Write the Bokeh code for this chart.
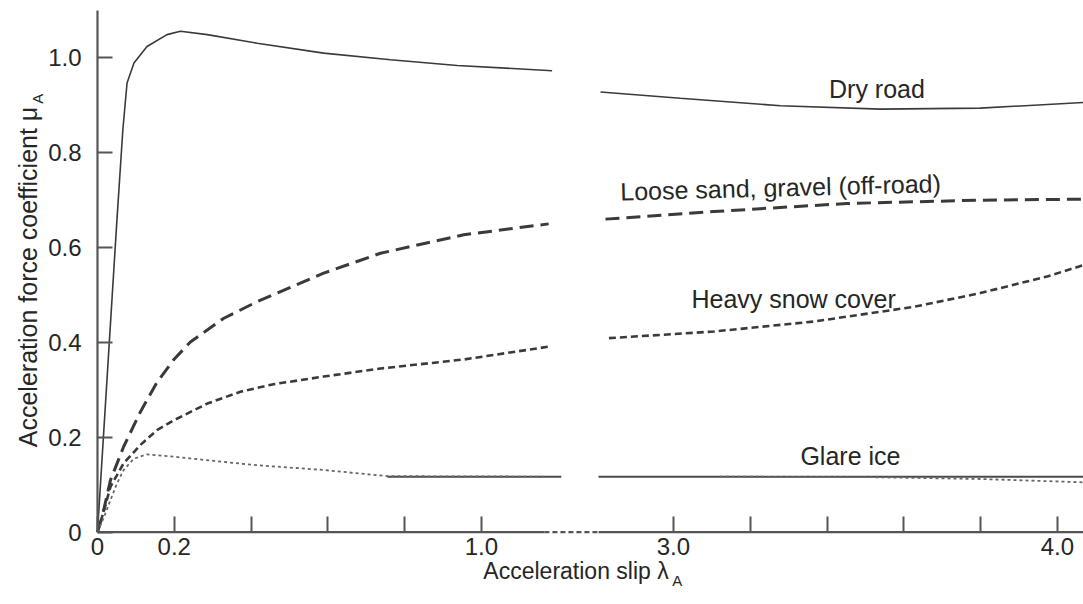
import math
from bokeh.plotting import figure
from bokeh.models import FixedTicker, Label, Range1d
from bokeh.embed import file_html
from bokeh.resources import INLINE

# ---------------- data (acceleration slip, force coefficient) ----------------
DRY_SLIP_L = [0, 0.03, 0.05, 0.066, 0.077, 0.095, 0.129, 0.181, 0.216, 0.286, 0.416, 0.589, 0.763, 0.937, 1.184]
DRY_MU_L   = [0, 0.39, 0.65, 0.848, 0.947, 0.989, 1.024, 1.049, 1.056, 1.049, 1.031, 1.01, 0.996, 0.984, 0.973]
DRY_SLIP_R = [2.81, 3.018, 3.279, 3.539, 3.799, 4.068]
DRY_MU_R   = [0.928, 0.915, 0.899, 0.892, 0.894, 0.906]

SAND_SLIP_L = [0, 0.012, 0.034, 0.068, 0.112, 0.155, 0.199, 0.242, 0.329, 0.416, 0.589, 0.737, 0.954, 1.175]
SAND_MU_L   = [0, 0.032, 0.11, 0.18, 0.254, 0.316, 0.364, 0.401, 0.451, 0.486, 0.546, 0.588, 0.627, 0.65]
SAND_SLIP_R = [2.823, 3.105, 3.452, 3.799, 4.068]
SAND_MU_R   = [0.66, 0.676, 0.693, 0.70, 0.702]

SNOW_SLIP_L = [0, 0.017, 0.034, 0.068, 0.112, 0.155, 0.199, 0.286, 0.372, 0.459, 0.589, 0.737, 0.954, 1.175]
SNOW_MU_L   = [0, 0.046, 0.096, 0.145, 0.184, 0.215, 0.236, 0.271, 0.296, 0.312, 0.328, 0.345, 0.364, 0.391]
SNOW_SLIP_R = [2.832, 3.105, 3.365, 3.626, 3.799, 3.973, 4.068]
SNOW_MU_R   = [0.409, 0.423, 0.444, 0.475, 0.504, 0.539, 0.563]

ICE_DOT_SLIP_L = [0, 0.017, 0.034, 0.051, 0.068, 0.095, 0.129, 0.199, 0.329, 0.416, 0.589, 0.755, 1.161]
ICE_DOT_MU_L   = [0, 0.032, 0.068, 0.103, 0.131, 0.155, 0.164, 0.159, 0.148, 0.141, 0.131, 0.118, 0.117]
ICE_DOT_SLIP_R = [3.12, 3.5, 3.8, 4.068]
ICE_DOT_MU_R   = [0.117, 0.116, 0.112, 0.105]
ICE_SOLID_SLIP_L = [0.755, 1.208]
ICE_SOLID_MU_L   = [0.117, 0.117]
ICE_SOLID_SLIP_R = [2.805, 4.068]
ICE_SOLID_MU_R   = [0.117, 0.117]

X_TICKS = [0, 0.2, 0.4, 0.6, 0.8, 1.0, 3.0, 3.2, 3.4, 3.6, 3.8, 4.0]
X_TICK_LABELS = ["0", "0.2", "", "", "", "1.0", "3.0", "", "", "", "", "4.0"]
Y_TICKS = [0, 0.2, 0.4, 0.6, 0.8, 1.0]
Y_TICK_LABELS = ["0", "0.2", "0.4", "0.6", "0.8", "1.0"]

CURVE_NAMES = ["Dry road", "Loose sand, gravel (off-road)", "Heavy snow cover", "Glare ice"]
NAME_SLIP = [3.53, 3.279, 3.313, 3.461]
NAME_MU = [0.935, 0.727, 0.492, 0.1615]
NAME_ANGLE = [0, 0.026, 0, 0]

# broken slip axis: the section between BREAK_LO and BREAK_HI is compressed
BREAK_LO = 1.164
BREAK_HI = 2.805
SHIFT = 1.5
X_MIN_VIEW = -0.2526
X_MAX = 4.068
Y_MIN_VIEW = -0.1442
Y_MAX_VIEW = 1.121
Y_AXIS_TOP = 1.1


def sx(vals):
    return [round(v if v < 2.0 else v - SHIFT, 6) for v in vals]


FONT = "Liberation Sans"
INK = "#3a3a3a"
AXIS = "#555555"
TXT = "#262626"

p = figure(width=1083, height=600,
           x_range=Range1d(X_MIN_VIEW, sx([X_MAX])[0]), y_range=Range1d(Y_MIN_VIEW, Y_MAX_VIEW),
           output_backend="svg", toolbar_location=None, min_border=0)
p.outline_line_color = None
p.grid.visible = False
p.background_fill_color = "white"
p.border_fill_color = "white"

# curves
p.line(sx(DRY_SLIP_L), DRY_MU_L, line_color=INK, line_width=1.6)
p.line(sx(DRY_SLIP_R), DRY_MU_R, line_color=INK, line_width=1.6)
p.line(sx(SAND_SLIP_L), SAND_MU_L, line_color=INK, line_width=3, line_dash="14 7")
p.line(sx(SAND_SLIP_R), SAND_MU_R, line_color=INK, line_width=3, line_dash="14 7")
p.line(sx(SNOW_SLIP_L), SNOW_MU_L, line_color=INK, line_width=2.6, line_dash="7 4")
p.line(sx(SNOW_SLIP_R), SNOW_MU_R, line_color=INK, line_width=2.6, line_dash="7 4")
p.line(sx(ICE_SOLID_SLIP_L), ICE_SOLID_MU_L, line_color="#4a4a4a", line_width=2)
p.line(sx(ICE_SOLID_SLIP_R), ICE_SOLID_MU_R, line_color="#4a4a4a", line_width=2)
p.line(sx(ICE_DOT_SLIP_L), ICE_DOT_MU_L, line_color="#666666", line_width=1.8, line_dash="3 3")
p.line(sx(ICE_DOT_SLIP_R), ICE_DOT_MU_R, line_color="#666666", line_width=1.8, line_dash="3 3")

# axis lines (x axis broken between the two slip ranges)
p.line([0, 0], [0, Y_AXIS_TOP], line_color=AXIS, line_width=2.2)
p.line(sx([0, BREAK_LO]), [0, 0], line_color=AXIS, line_width=2.2)
p.line(sx([BREAK_LO, BREAK_HI]), [0, 0], line_color=AXIS, line_width=2.2, line_dash="5 3")
p.line(sx([BREAK_HI, X_MAX]), [0, 0], line_color=AXIS, line_width=2.2)

# axes fixed at the origin
xt = sx(X_TICKS)
p.xaxis.fixed_location = 0
p.xaxis.ticker = FixedTicker(ticks=xt)
p.xaxis.major_label_overrides = {t: l for t, l in zip(xt, X_TICK_LABELS)}
p.xaxis.major_tick_in = 16
p.xaxis.major_label_standoff = 6

p.yaxis.fixed_location = 0
p.yaxis.ticker = FixedTicker(ticks=Y_TICKS)
p.yaxis.major_label_overrides = {t: l for t, l in zip(Y_TICKS, Y_TICK_LABELS)}
p.yaxis.major_tick_in = 15
p.yaxis.major_label_standoff = 16

for ax in (p.xaxis, p.yaxis):
    ax.axis_line_color = None
    ax.major_tick_out = 0
    ax.minor_tick_line_color = None
    ax.major_tick_line_color = AXIS
    ax.major_tick_line_width = 2
    ax.major_label_text_font = FONT
    ax.major_label_text_font_size = "24px"
    ax.major_label_text_color = TXT

# curve names
for name, s, m, a in zip(CURVE_NAMES, NAME_SLIP, NAME_MU, NAME_ANGLE):
    p.add_layout(Label(x=sx([s])[0], y=m, text=name, angle=a, text_align="center",
                       text_baseline="middle", text_font=FONT, text_font_size="25px",
                       text_color=TXT))

# axis titles with subscripts
p.add_layout(Label(x=1.005, y=-0.082, text="Acceleration slip \u03bb", text_align="left",
                   text_baseline="middle", text_font=FONT, text_font_size="23px", text_color=TXT))
p.add_layout(Label(x=1.51, y=-0.101, text="A", text_align="center",
                   text_baseline="middle", text_font=FONT, text_font_size="15px", text_color=TXT))
p.add_layout(Label(x=-0.1797, y=0.179, text="Acceleration force coefficient \u03bc", angle=math.pi / 2,
                   text_align="left", text_baseline="middle", text_font=FONT,
                   text_font_size="25px", text_color=TXT))
p.add_layout(Label(x=-0.156, y=0.914, text="A", angle=math.pi / 2, text_align="center",
                   text_baseline="middle", text_font=FONT, text_font_size="15px", text_color=TXT))

open("out.html", "w").write(file_html(p, INLINE))
